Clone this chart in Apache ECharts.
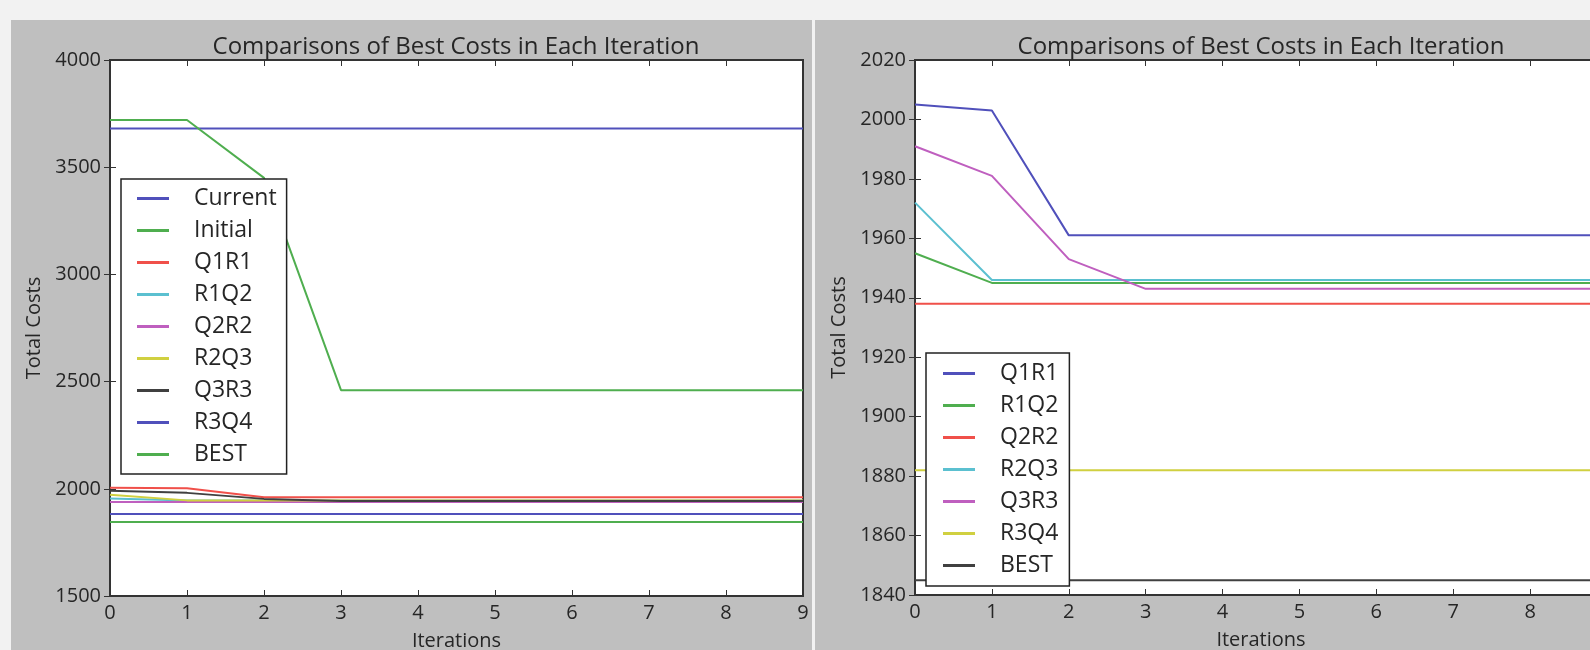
<!DOCTYPE html>
<html>
<head>
<meta charset="utf-8">
<script src="https://cdn.jsdelivr.net/npm/echarts@6/dist/echarts.min.js"></script>
<style>
  html, body { margin: 0; padding: 0; width: 1590px; height: 650px; overflow: hidden; background: #f2f2f2; }
  .panel { position: absolute; background: #bfbfbf; }
  #left { left: 11px; top: 20px; width: 801px; height: 630px; }
  #right { left: 815px; top: 20px; width: 810px; height: 630px; }
</style>
</head>
<body>
<div id="left" class="panel"></div>
<div id="right" class="panel"></div>
<script>
// iterations on x axis
const iterations = [0, 1, 2, 3, 4, 5, 6, 7, 8, 9]

// best cost per iteration
const current = [3680, 3680, 3680, 3680, 3680, 3680, 3680, 3680, 3680, 3680]
const initial = [3720, 3720, 3450, 2460, 2460, 2460, 2460, 2460, 2460, 2460]
const q1r1 = [2005, 2003, 1961, 1961, 1961, 1961, 1961, 1961, 1961, 1961]
const r1q2 = [1955, 1945, 1945, 1945, 1945, 1945, 1945, 1945, 1945, 1945]
const q2r2 = [1938, 1938, 1938, 1938, 1938, 1938, 1938, 1938, 1938, 1938]
const r2q3 = [1972, 1946, 1946, 1946, 1946, 1946, 1946, 1946, 1946, 1946]
const q3r3 = [1991, 1981, 1953, 1943, 1943, 1943, 1943, 1943, 1943, 1943]
const r3q4 = [1882, 1882, 1882, 1882, 1882, 1882, 1882, 1882, 1882, 1882]
const best = [1845, 1845, 1845, 1845, 1845, 1845, 1845, 1845, 1845, 1845]

const leftNames = ['Current', 'Initial', 'Q1R1', 'R1Q2', 'Q2R2', 'R2Q3', 'Q3R3', 'R3Q4', 'BEST']
const leftData = [current, initial, q1r1, r1q2, q2r2, r2q3, q3r3, r3q4, best]
const rightNames = ['Q1R1', 'R1Q2', 'Q2R2', 'R2Q3', 'Q3R3', 'R3Q4', 'BEST']
const rightData = [q1r1, r1q2, q2r2, r2q3, q3r3, r3q4, best]

const yTicksLeft = { min: 1500, max: 4000, interval: 500 }
const yTicksRight = { min: 1840, max: 2020, interval: 20 }

// matplotlib classic colour cycle (b g r c m y k)
const cycle = ['#5050bb', '#4fae4f', '#f0504a', '#5bc0d0', '#bf5fbf', '#d0d040', '#404040']

const font = 'Open Sans'
const textColor = '#262626'

function pairs(arr) {
  return arr.map((v, i) => [iterations[i], v])
}

function makeSeries(names, data) {
  return names.map((name, i) => ({
    name: name,
    type: 'line',
    data: pairs(data[i]),
    symbol: 'none',
    color: cycle[i % cycle.length],
    lineStyle: { width: 2 },
    animation: false
  }))
}

function getOption(names, data, yr, grid, legend, titleX) {
  const tick = { show: true, inside: true, length: 6, lineStyle: { color: '#333', width: 1 } }
  return {
    title: {
      text: 'Comparisons of Best Costs in Each Iteration',
      left: titleX,
      textAlign: 'center',
      top: 15,
      padding: 0,
      textStyle: { fontFamily: font, fontSize: 24, fontWeight: 'normal', color: textColor }
    },
    grid: Object.assign({
      show: true,
      outerBoundsMode: 'none',
      containLabel: false,
      backgroundColor: '#ffffff',
      borderColor: '#333333',
      borderWidth: 2
    }, grid),
    legend: Object.assign({
      orient: 'vertical',
      data: names,
      icon: 'rect',
      itemWidth: 32,
      itemHeight: 3,
      itemGap: 9,
      backgroundColor: '#ffffff',
      borderColor: '#222222',
      borderWidth: 1.5,
      borderRadius: 0,
      textStyle: { fontFamily: font, fontSize: 23, color: textColor, lineHeight: 22, padding: [0, 0, 0, 20] }
    }, legend),
    xAxis: [{
      type: 'value',
      min: 0,
      max: 9,
      interval: 1,
      name: 'Iterations',
      nameLocation: 'middle',
      nameGap: 35,
      nameTextStyle: { fontFamily: font, fontSize: 20, color: textColor },
      axisLine: { show: false },
      axisTick: tick,
      splitLine: { show: false },
      axisLabel: { fontFamily: font, fontSize: 20, color: textColor, margin: 7 }
    }, {
      type: 'value',
      position: 'top',
      min: 0,
      max: 9,
      interval: 1,
      axisLine: { show: false },
      axisTick: tick,
      splitLine: { show: false },
      axisLabel: { show: false }
    }],
    yAxis: [{
      type: 'value',
      min: yr.min,
      max: yr.max,
      interval: yr.interval,
      name: 'Total Costs',
      nameLocation: 'middle',
      nameGap: 61,
      nameTextStyle: { fontFamily: font, fontSize: 20, color: textColor },
      axisLine: { show: false },
      axisTick: tick,
      splitLine: { show: false },
      axisLabel: { fontFamily: font, fontSize: 20, color: textColor, margin: 9, formatter: v => String(v) }
    }, {
      type: 'value',
      position: 'right',
      min: yr.min,
      max: yr.max,
      interval: yr.interval,
      axisLine: { show: false },
      axisTick: tick,
      splitLine: { show: false },
      axisLabel: { show: false }
    }],
    series: makeSeries(names, data)
  }
}

const chart = echarts.init(document.getElementById('left'), null, { renderer: 'canvas' })
chart.setOption(getOption(leftNames, leftData, yTicksLeft,
  { left: 99, right: 9, top: 40, bottom: 54 },
  { left: 110, top: 159, padding: [8, 10, 8, 16] },
  445))

const chart2 = echarts.init(document.getElementById('right'), null, { renderer: 'canvas' })
chart2.setOption(getOption(rightNames, rightData, yTicksRight,
  { left: 100, right: 18, top: 40, bottom: 55 },
  { left: 111, top: 333, padding: [9, 11, 9, 17] },
  446))
</script>
</body>
</html>
